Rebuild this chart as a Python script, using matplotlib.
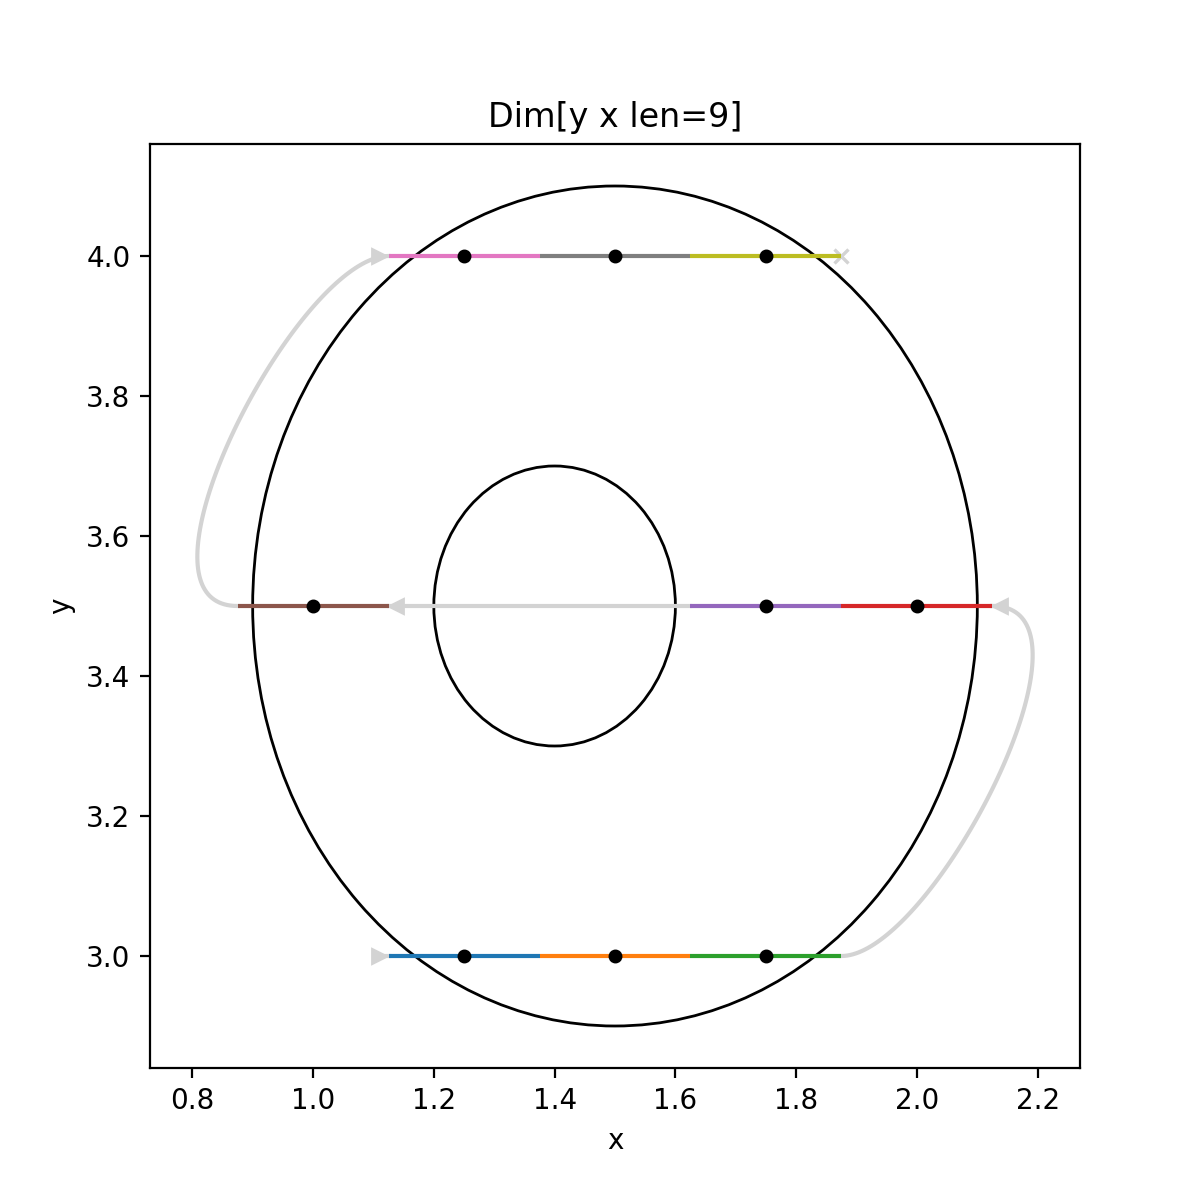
import numpy as np
import matplotlib
matplotlib.use('Agg')
import matplotlib.pyplot as plt
from matplotlib.patches import Ellipse

# cell centres along the path, in visiting order
cell_x = [1.25, 1.5, 1.75, 2.0, 1.75, 1.0, 1.25, 1.5, 1.75]
cell_y = [3.0, 3.0, 3.0, 3.5, 3.5, 3.5, 4.0, 4.0, 4.0]
cell_w = 0.25
colors = ['tab:blue', 'tab:orange', 'tab:green', 'tab:red', 'tab:purple',
          'tab:brown', 'tab:pink', 'tab:gray', 'tab:olive']

# circles (centre x, centre y, radius)
circles = [(1.5, 3.5, 0.6), (1.4, 3.5, 0.2)]


def bezier(p0, p1, p2, p3, n=100):
    t = np.linspace(0, 1, n)[:, None]
    pts = ((1 - t)**3 * np.array(p0) + 3 * (1 - t)**2 * t * np.array(p1)
           + 3 * (1 - t) * t**2 * np.array(p2) + t**3 * np.array(p3))
    return pts[:, 0], pts[:, 1]


fig, ax = plt.subplots(figsize=(6, 6), dpi=200)

for cx, cy, r in circles:
    ax.add_patch(Ellipse((cx, cy), 2 * r, 2 * r, fill=False, color='black', lw=1))

grey = 'lightgray'
h = cell_w / 2
lw = 1.5
# connector curves between rows
bx, by = bezier((cell_x[2] + h, cell_y[2]), (cell_x[2] + h + 0.15, cell_y[2]),
                (cell_x[3] + h + 0.2, cell_y[3]), (cell_x[3] + h, cell_y[3]))
ax.plot(bx, by, color=grey, lw=lw)
bx, by = bezier((cell_x[5] - h, cell_y[5]), (cell_x[5] - h - 0.2, cell_y[5]),
                (cell_x[6] - h - 0.15, cell_y[6]), (cell_x[6] - h, cell_y[6]))
ax.plot(bx, by, color=grey, lw=lw)
# jump along the middle row
ax.plot([cell_x[4] - h, cell_x[5] + h], [cell_y[4], cell_y[5]], color=grey, lw=lw)
ax.plot([cell_x[0] - h - 0.015, cell_x[0] - h], [cell_y[0]] * 2, color=grey, lw=lw)
ax.plot([cell_x[3] + h, cell_x[3] + h + 0.012], [cell_y[3]] * 2, color=grey, lw=lw)

# markers along the route
ax.plot(cell_x[0] - h - 0.015, cell_y[0], '>', color=grey, ms=5)
ax.plot(cell_x[3] + h + 0.012, cell_y[3], '<', color=grey, ms=5)
ax.plot(cell_x[5] + h + 0.012, cell_y[5], '<', color=grey, ms=5)
ax.plot(cell_x[6] - h - 0.015, cell_y[6], '>', color=grey, ms=5)
ax.plot(cell_x[8] + h, cell_y[8], 'x', color=grey, ms=5, mew=1.2)

for x, y, c in zip(cell_x, cell_y, colors):
    ax.plot([x - h, x + h], [y, y], color=c, lw=lw, solid_capstyle='butt')
ax.plot(cell_x, cell_y, 'o', color='black', ms=4, linestyle='none')

ax.set_xlim(0.73, 2.27)
ax.set_ylim(2.84, 4.16)
ax.set_xlabel('x')
ax.set_ylabel('y')
ax.set_title('Dim[y x len=9]')

fig.savefig('out.png', dpi=200)
